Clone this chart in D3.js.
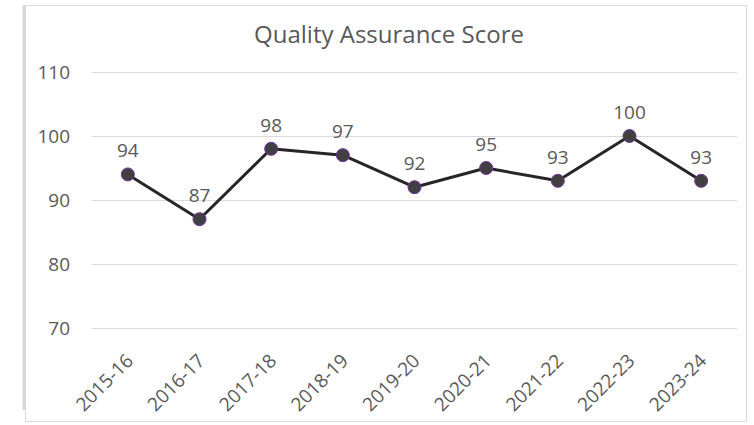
<!DOCTYPE html>
<html>
<head>
<meta charset="utf-8">
<script src="https://cdn.jsdelivr.net/npm/d3@7"></script>
<style>
  body { margin: 0; background: #fff; }
  svg text { font-family: "Open Sans", "Noto Sans", sans-serif; fill: #595959; }
</style>
</head>
<body>
<div id="chart"></div>
<script>
// Data
const years = ["2015-16", "2016-17", "2017-18", "2018-19", "2019-20", "2020-21", "2021-22", "2022-23", "2023-24"];
const scores = [94, 87, 98, 97, 92, 95, 93, 100, 93];
const yTicks = [70, 80, 90, 100, 110];
const title = "Quality Assurance Score";

const width = 754;
const height = 425;
const margin = {top: 72, right: 17, bottom: 97, left: 92};

const svg = d3.select('#chart')
    .append('svg')
    .attr('width', width)
    .attr('height', height);

// Chart frame
svg.append('rect')
    .attr('x', 25.5).attr('y', 5.5)
    .attr('width', 721).attr('height', 416)
    .attr('fill', 'none')
    .attr('stroke', '#d9d9d9')
    .attr('stroke-width', 1);
svg.append('line')
    .attr('x1', 24).attr('x2', 24)
    .attr('y1', 5).attr('y2', 410)
    .attr('stroke', '#d9d9d9')
    .attr('stroke-width', 3);

const x = d3.scalePoint()
    .domain(years)
    .range([margin.left, width - margin.right])
    .padding(0.5);

const y = d3.scaleLinear()
    .domain([70, 110])
    .range([height - margin.bottom, margin.top]);

// Gridlines
svg.append('g')
    .selectAll('line')
    .data(yTicks)
    .enter()
    .append('line')
    .attr('x1', margin.left)
    .attr('x2', width - margin.right)
    .attr('y1', d => Math.round(y(d)) + 0.5)
    .attr('y2', d => Math.round(y(d)) + 0.5)
    .attr('stroke', '#d9d9d9')
    .attr('stroke-width', 1);

// Y axis labels
const yAxis = svg.append('g')
    .attr('transform', `translate(${margin.left - 22},0)`)
    .call(d3.axisLeft(y).tickValues(yTicks).tickSize(0).tickPadding(0));
yAxis.select('.domain').remove();
yAxis.selectAll('text')
    .attr('font-size', 19)
    .attr('font-family', null)
    .style('fill', '#595959');

// X axis labels
const xAxis = svg.append('g')
    .attr('transform', `translate(0,${height - margin.bottom})`)
    .call(d3.axisBottom(x).tickSize(0).tickPadding(0));
xAxis.select('.domain').remove();
xAxis.selectAll('text')
    .attr('font-size', 19)
    .attr('font-family', null)
    .style('fill', '#595959')
    .attr('text-anchor', 'end')
    .attr('dy', null)
    .attr('y', 0)
    .attr('transform', 'translate(6,34) rotate(-45)');

// Line
const line = d3.line()
    .x((d, i) => x(years[i]))
    .y(d => y(d));

svg.append('path')
    .datum(scores)
    .attr('d', line)
    .attr('fill', 'none')
    .attr('stroke', '#262626')
    .attr('stroke-width', 3)
    .attr('stroke-linejoin', 'round');

// Markers
svg.append('g')
    .selectAll('circle')
    .data(scores)
    .enter()
    .append('circle')
    .attr('cx', (d, i) => x(years[i]))
    .attr('cy', d => y(d))
    .attr('r', 6.5)
    .attr('fill', '#404040')
    .attr('stroke', '#7030a0')
    .attr('stroke-width', 1);

// Data labels
svg.append('g')
    .selectAll('text')
    .data(scores)
    .enter()
    .append('text')
    .attr('x', (d, i) => x(years[i]))
    .attr('y', d => y(d) - 17)
    .attr('text-anchor', 'middle')
    .attr('font-size', 19)
    .text(d => d);

// Title
svg.append('text')
    .attr('x', 389)
    .attr('y', 43)
    .attr('text-anchor', 'middle')
    .attr('font-size', 24)
    .text(title);
</script>
</body>
</html>
